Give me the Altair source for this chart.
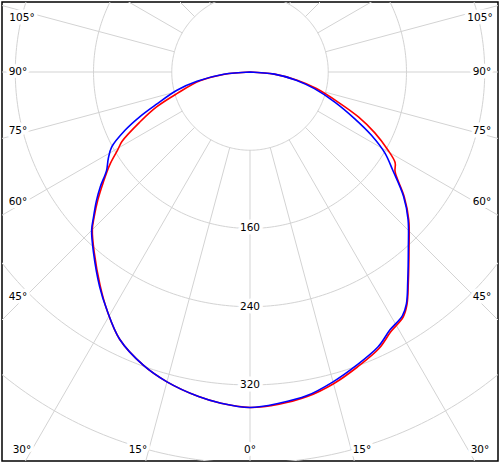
import altair as alt
import numpy as np
import pandas as pd

# ---------------- data ----------------
blue_angles = [-90, -85, -80, -76, -71, -68, -65, -61.5, -58.5, -55.5, -52.5, -50, -47, -45,
               -41, -35, -31, -26, -20, -15, -9, -5, 0, 5, 10, 15, 20, 25, 28.5, 32, 34,
               37, 42, 47, 51, 55.5, 59, 62.5, 66, 70.5, 75.5, 80, 85, 90]
blue_vals = [0, 27, 55, 77, 101, 121, 141, 161, 170, 178, 193, 205, 219, 229,
             244, 268, 284, 304, 319, 328, 336, 340, 343, 340, 336, 328, 319, 310, 300, 294, 286,
             268, 242, 221, 202, 177, 161, 140, 117, 92, 68, 48, 25, 0]

red_angles = [-90, -85, -80, -73.5, -69.5, -65.5, -61.5, -59.5, -56.5, -53, -50, -47, -45,
              -41, -35, -31, -26, -20, -15, -9, -5, 0, 5, 10, 15, 20, 25, 28.5, 32, 34,
              37, 42, 47, 51, 55.5, 58, 60.5, 64, 67.5, 71, 76, 80, 85, 90]
red_vals = [0, 26, 52, 78, 102, 124, 149, 157, 172, 188, 203, 218, 228,
            243, 267, 284, 304, 319, 328, 336, 340, 343, 341, 337, 330, 321, 312, 302, 295.5, 287,
            269, 243, 222, 203, 180, 175, 162, 142, 120, 96, 70, 49, 25, 0]

grid_radii = [80, 160, 240, 320, 400, 480]
radial_labels = ["160", "240", "320"]
radial_label_values = [160, 240, 320]
ray_angles = list(range(-180, 181, 15))
angle_label_text = ["105°", "90°", "75°", "60°", "45°", "30°", "15°", "0°",
                    "15°", "30°", "45°", "60°", "75°", "90°", "105°"]

# ---------------- layout ----------------
K = 0.978            # pixels per intensity unit
PAD = 2
W, H = 496, 459      # plot area
PX0, PY0 = 250, 72   # pole position on the page
CX, CY = PX0 - PAD, PY0 - PAD
xs = alt.Scale(domain=[-CX / K, (W - CX) / K], nice=False, zero=False)
ys = alt.Scale(domain=[-(H - CY) / K, CY / K], nice=False, zero=False)

# label anchor positions (page pixels) for the angle labels
angle_label_px = [(22, 18), (18, 72), (18, 131), (18, 202), (18, 297), (22, 450), (138, 450),
                  (250, 450), (362, 450), (480, 450), (482, 297), (482, 202), (482, 131),
                  (482, 72), (480, 18)]


def polar(angles, vals):
    a = np.radians(np.asarray(angles, dtype=float))
    r = np.asarray(vals, dtype=float)
    return r * np.sin(a), -r * np.cos(a)


def X(field):
    return alt.X(field, type="quantitative", scale=xs, axis=None)


def Y(field):
    return alt.Y(field, type="quantitative", scale=ys, axis=None)


# grid circles
t = np.radians(np.arange(0, 361, 1))
circ_rows = []
for r in grid_radii:
    for i, tt in enumerate(t):
        circ_rows.append({"r": r, "i": i, "x": r * np.sin(tt), "y": r * np.cos(tt)})
circ_df = pd.DataFrame(circ_rows)
circles = alt.Chart(circ_df).mark_line(clip=True, color="#d3d3d3", strokeWidth=1).encode(
    x=X("x"), y=Y("y"), detail="r:N", order="i:Q")

# rays
ray_rows = []
for a in ray_angles:
    ar = np.radians(a)
    ray_rows.append({"x": 80 * np.sin(ar), "y": -80 * np.cos(ar),
                     "x2": 700 * np.sin(ar), "y2": -700 * np.cos(ar)})
ray_df = pd.DataFrame(ray_rows)
rays = alt.Chart(ray_df).mark_rule(clip=True, color="#d3d3d3", strokeWidth=1).encode(
    x=X("x"), y=Y("y"), x2="x2:Q", y2="y2:Q")

# labels
lab_rows = []
for txt, v in zip(radial_labels, radial_label_values):
    lab_rows.append({"t": txt, "x": 0.0, "y": -float(v)})
for txt, (px, py) in zip(angle_label_text, angle_label_px):
    lab_rows.append({"t": txt, "x": (px - PX0) / K, "y": (PY0 - py) / K})
lab_df = pd.DataFrame(lab_rows)
FONT = "DejaVu Sans"
FS = 10.5
halo = alt.Chart(lab_df).mark_text(font=FONT, fontSize=FS, fill="white",
                                   stroke="white", strokeWidth=7, strokeJoin="round",
                                   baseline="middle", align="center").encode(
    x=X("x"), y=Y("y"), text="t:N")
labels = alt.Chart(lab_df).mark_text(font=FONT, fontSize=FS, color="black",
                                     baseline="middle", align="center").encode(
    x=X("x"), y=Y("y"), text="t:N")

# curves
rx, ry = polar(red_angles, red_vals)
bx, by = polar(blue_angles, blue_vals)
red_df = pd.DataFrame({"x": rx, "y": ry, "i": range(len(rx))})
blue_df = pd.DataFrame({"x": bx, "y": by, "i": range(len(bx))})
red_line = alt.Chart(red_df).mark_line(clip=True, color="#ff0000", strokeWidth=1.6,
                                       interpolate="catmull-rom").encode(
    x=X("x"), y=Y("y"), order="i:Q")
blue_line = alt.Chart(blue_df).mark_line(clip=True, color="#0000ff", strokeWidth=1.6,
                                         interpolate="catmull-rom").encode(
    x=X("x"), y=Y("y"), order="i:Q")

chart = alt.layer(circles, rays, halo, labels, red_line, blue_line).properties(
    width=W, height=H, padding=PAD, autosize=alt.AutoSizeParams(type="none")
).configure_view(stroke="black", strokeWidth=1.5)

chart.save("out.html", embed_options={"renderer": "svg", "actions": False,
                                      "defaultStyle": "body{margin:0;} .vega-embed{display:block;}"})
